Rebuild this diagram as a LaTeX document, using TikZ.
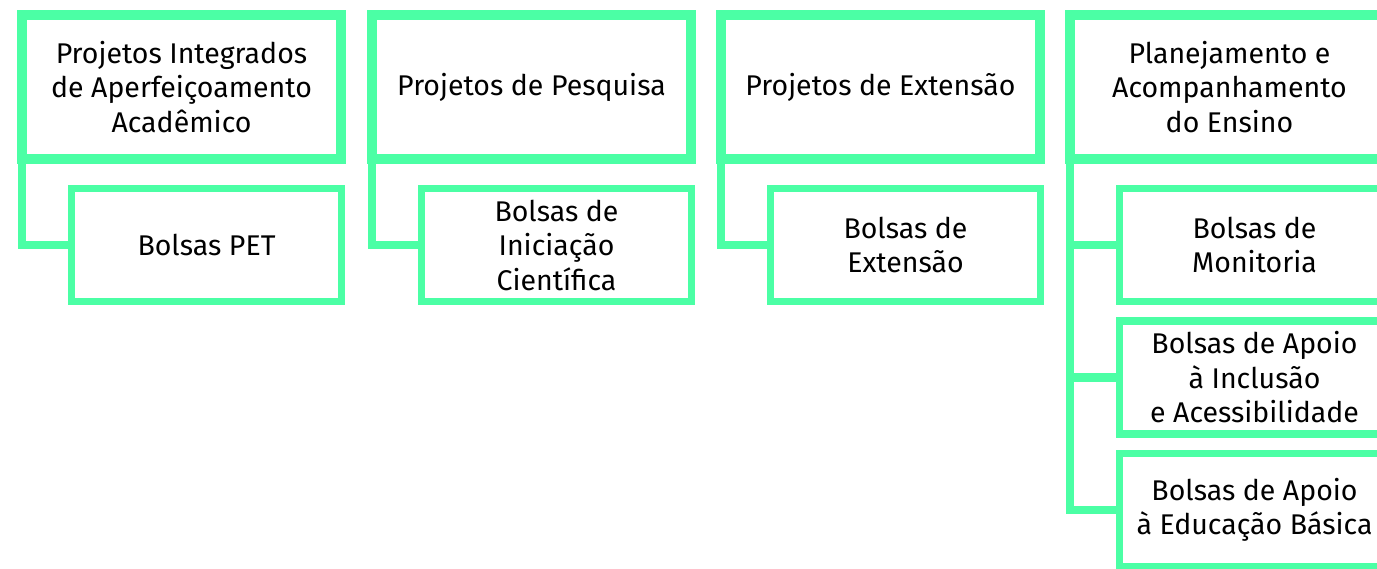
\documentclass[tikz,border=0pt]{standalone}
\usepackage{fontspec}
\setmainfont{Fira Sans}
\usetikzlibrary{backgrounds}
\definecolor{mint}{RGB}{75,255,165}
\begin{document}
\begin{tikzpicture}[x=1pt,y=-1pt,
  parentbox/.style={draw=mint,line width=10pt,fill=white,outer sep=0pt,inner sep=0pt,
    minimum width=319pt,minimum height=144pt,align=center,
    font=\fontsize{28.5}{34.5}\selectfont,text=black},
  childbox/.style={draw=mint,line width=7.5pt,fill=white,outer sep=0pt,inner sep=0pt,
    minimum width=270pt,minimum height=113pt,align=center,
    font=\fontsize{28.5}{34.5}\selectfont,text=black},
  link/.style={draw=mint,line width=8.5pt,line join=miter}]
\useasboundingbox (0,0) rectangle (1377,569);
\clip (0,0) rectangle (1377,569);
% nodes
\node[parentbox] (p1) at (181.5,87) {Projetos Integrados\\de Aperfeiçoamento\\Acadêmico};
\node[parentbox] (p2) at (531.5,87) {Projetos de Pesquisa};
\node[parentbox] (p3) at (880.5,87) {Projetos de Extensão};
\node[parentbox] (p4) at (1229.5,87) {Planejamento e\\Acompanhamento\\do Ensino};
\node[childbox] (c1) at (206.5,245) {Bolsas PET};
\node[childbox] (c2) at (556.5,245) {Bolsas de\\Iniciação\\Científica};
\node[childbox] (c3) at (905.5,245) {Bolsas de\\Extensão};
\node[childbox] (c4a) at (1254.5,245) {Bolsas de\\Monitoria};
\node[childbox] (c4b) at (1254.5,377.5) {Bolsas de Apoio\\à Inclusão\\e Acessibilidade};
\node[childbox] (c4c) at (1254.5,510) {Bolsas de Apoio\\à Educação Básica};
% connectors, behind the boxes
\begin{scope}[on background layer]
\draw[link] (p1.south west) -- (p1.south west |- c1.west) -- (c1.west);
\draw[link] (p2.south west) -- (p2.south west |- c2.west) -- (c2.west);
\draw[link] (p3.south west) -- (p3.south west |- c3.west) -- (c3.west);
\draw[link] (p4.south west) -- (p4.south west |- c4c.west) -- (c4c.west);
\draw[link] (p4.south west |- c4a.west) -- (c4a.west);
\draw[link] (p4.south west |- c4b.west) -- (c4b.west);
\end{scope}
\end{tikzpicture}
\end{document}
